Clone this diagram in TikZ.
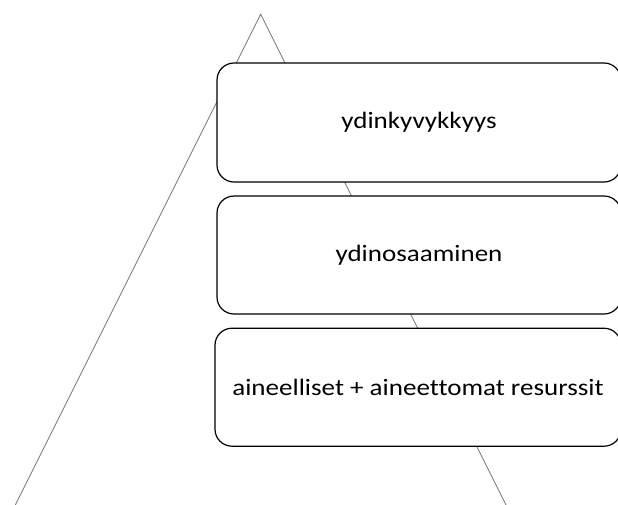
\documentclass[tikz,border=0pt]{standalone}
\usepackage{fontspec}
\setmainfont{Carlito}[FakeStretch=1.15, Ligatures=NoCommon]
\begin{document}
\begin{tikzpicture}[x=1pt,y=-1pt,
  level/.style={draw=black, line width=1.2pt, fill=white, rounded corners=17pt,
    minimum width=404pt, inner sep=0pt, font=\fontsize{23.5}{28}\selectfont},
  pyramid/.style={draw=gray, line width=0.9pt}]
  \useasboundingbox (0,0) rectangle (618,504);
  \clip (0,0) rectangle (618,504);
  % background pyramid
  \coordinate (apex) at (260.7,14.3);
  \coordinate (baseL) at (2.8,530);
  \coordinate (baseR) at (518.6,530);
  \draw[pyramid] (baseL) -- (apex) -- (baseR);
  % levels
  \node[level, minimum height=119pt] (core) at (419,122.5) {ydinkyvykkyys};
  \node[level, minimum height=118pt] (know) at (419,255) {ydinosaaminen};
  \node[level, minimum height=118pt, minimum width=406pt] (res) at (418,387.2) {aineelliset + aineettomat resurssit};
\end{tikzpicture}
\end{document}
